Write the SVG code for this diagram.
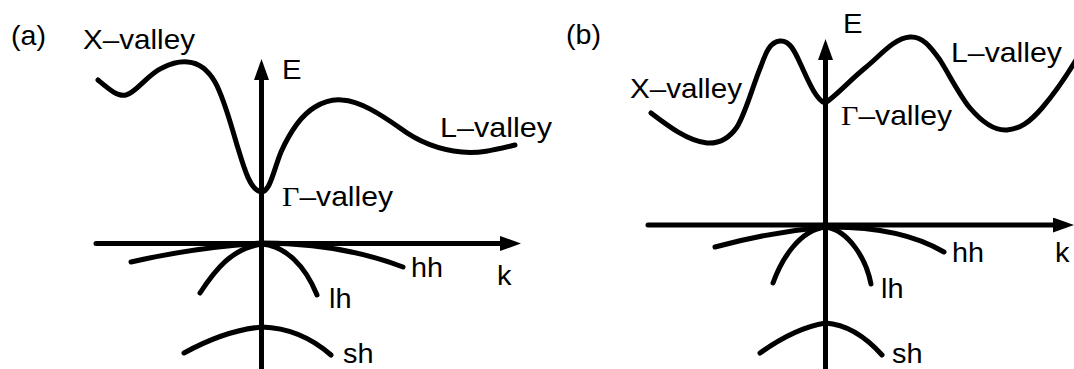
<svg xmlns="http://www.w3.org/2000/svg" width="1074" height="369" viewBox="0 0 1074 369">
  <style>
    .c { fill: none; stroke: #000; stroke-width: 5; stroke-linecap: round; stroke-linejoin: round; }
    .ax { fill: none; stroke: #000; stroke-width: 5; stroke-linecap: round; }
    .t { font-family: "Liberation Sans", Arial, sans-serif; font-size: 27.5px; fill: #000; }
    .g { font-family: "Liberation Serif", "Times New Roman", serif; }
  </style>
  <defs>
    <marker id="ah" markerUnits="userSpaceOnUse" markerWidth="21" markerHeight="15" refX="0" refY="7.5" orient="auto" viewBox="0 0 21 15">
      <path d="M0,0 L21,7.5 L0,15 z" fill="#000"/>
    </marker>
  </defs>

  <g id="panel-a">
    <g id="a-axes">
      <line class="ax" x1="261.5" y1="369" x2="261.5" y2="80" marker-end="url(#ah)"/>
      <line class="ax" x1="96" y1="243.5" x2="500" y2="243.5" marker-end="url(#ah)"/>
    </g>
    <g id="a-curves">
      <path class="c" d="M98,80 C110,90 118,97 126,95 C136,93 148,74 162,68 C172,63 180,61 188,62 C200,63 208,70 215,82 C224,98 231,125 237,145 C244,168 250,190 261,192 C270,192 273,172 281,152 C290,132 300,116 315,107 C325,101 334,99 342,100 C360,101 380,114 400,128 C420,143 440,150 462,152 C480,154 498,149 515,145"/>
      <path class="c" d="M131,262 Q196,247 262,243 Q340,243 403,267"/>
      <path class="c" d="M200,293 C215,270 232,248 262,244 C285,246 305,265 317,295"/>
      <path class="c" d="M184,353 Q226,330 262,327 Q300,328 331,355"/>
    </g>
    <g id="a-labels">
      <text class="t" x="11" y="45" textLength="35" lengthAdjust="spacingAndGlyphs">(a)</text>
      <text class="t" x="83" y="49" textLength="112" lengthAdjust="spacingAndGlyphs">X–valley</text>
      <text class="t" x="282" y="79" textLength="19.5" lengthAdjust="spacingAndGlyphs">E</text>
      <text class="t" x="440" y="137" textLength="112" lengthAdjust="spacingAndGlyphs">L–valley</text>
      <text class="t" x="282" y="206" textLength="111" lengthAdjust="spacingAndGlyphs"><tspan class="g">Γ</tspan>–valley</text>
      <text class="t" x="411" y="277" textLength="32" lengthAdjust="spacingAndGlyphs">hh</text>
      <text class="t" x="497" y="285" textLength="14.5" lengthAdjust="spacingAndGlyphs">k</text>
      <text class="t" x="329" y="308" textLength="22.5" lengthAdjust="spacingAndGlyphs">lh</text>
      <text class="t" x="343" y="363" textLength="30.5" lengthAdjust="spacingAndGlyphs">sh</text>
    </g>
  </g>

  <g id="panel-b">
    <g id="b-axes">
      <line class="ax" x1="825.5" y1="369" x2="825.5" y2="60" marker-end="url(#ah)"/>
      <line class="ax" x1="648" y1="225" x2="1053" y2="225" marker-end="url(#ah)"/>
    </g>
    <g id="b-curves">
      <path class="c" d="M651,113 C668,126 688,141 707,143 C720,144 730,137 737,127 C746,112 752,88 761,66 C766,52 770,42 780,41 C790,40 795,52 801,65 C808,80 816,100 825,103 C835,97 848,82 865,68 C880,56 894,38 910,37 C922,36 930,46 940,60 C950,76 960,96 970,108 C982,122 994,131 1007,130 C1020,129 1030,122 1042,108 C1054,94 1064,80 1076,60"/>
      <path class="c" d="M715,247 Q770,232 825.5,227 Q900,226 944,252"/>
      <path class="c" d="M773,283 C782,258 800,230 825.5,227 C848,230 866,258 871,284"/>
      <path class="c" d="M760,353 Q795,328 825.5,323 Q855,325 882,355"/>
    </g>
    <g id="b-labels">
      <text class="t" x="566" y="44" textLength="35" lengthAdjust="spacingAndGlyphs">(b)</text>
      <text class="t" x="843" y="33" textLength="19.5" lengthAdjust="spacingAndGlyphs">E</text>
      <text class="t" x="951" y="62" textLength="111" lengthAdjust="spacingAndGlyphs">L–valley</text>
      <text class="t" x="630" y="98" textLength="112" lengthAdjust="spacingAndGlyphs">X–valley</text>
      <text class="t" x="841" y="125" textLength="111" lengthAdjust="spacingAndGlyphs"><tspan class="g">Γ</tspan>–valley</text>
      <text class="t" x="952" y="262" textLength="32" lengthAdjust="spacingAndGlyphs">hh</text>
      <text class="t" x="1055" y="262" textLength="14.5" lengthAdjust="spacingAndGlyphs">k</text>
      <text class="t" x="881" y="298" textLength="22.5" lengthAdjust="spacingAndGlyphs">lh</text>
      <text class="t" x="892" y="363" textLength="30.5" lengthAdjust="spacingAndGlyphs">sh</text>
    </g>
  </g>
</svg>
